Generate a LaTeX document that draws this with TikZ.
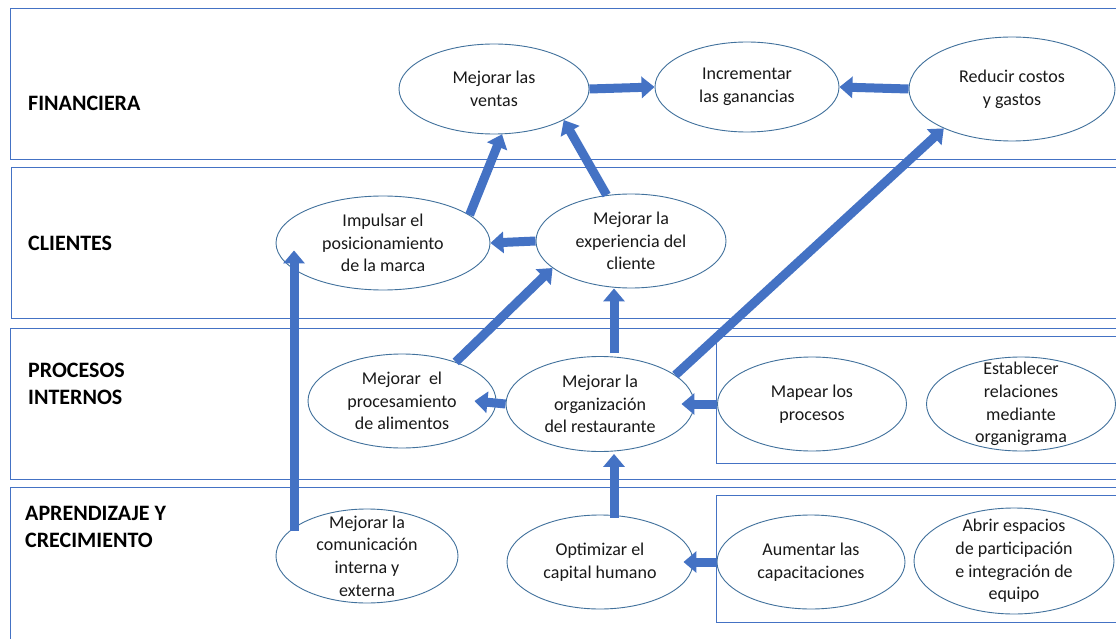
\documentclass[tikz,border=0pt]{standalone}
\usepackage{fontspec}
\setmainfont{Carlito}
\usetikzlibrary{shapes.geometric,arrows.meta,calc}
\definecolor{bandline}{HTML}{4472C4}
\definecolor{ovalline}{HTML}{41719C}
\definecolor{arrowblue}{HTML}{4472C4}

% oval objective: #1 name, #2 position, #3 width, #4 height, #5 text
\newcommand\goalnode[5]{%
  \node[goal,minimum width=#3pt,minimum height=#4pt] (#1) at (#2) {};
  \node[goaltext] (#1-t) at (#1.center) {#5};
}

\begin{document}
\begin{tikzpicture}[x=1pt,y=-1pt,
  band/.style={draw=bandline,line width=1pt},
  goal/.style={ellipse,draw=ovalline,line width=0.9pt,fill=white,inner sep=0pt},
  goaltext/.style={inner sep=0pt,align=center,text=black!90,font=\fontsize{18}{22.6}\selectfont},
  persp/.style={anchor=west,inner sep=0pt,align=left,font=\fontsize{22}{27}\selectfont\bfseries},
  flow/.style={draw=arrowblue,line width=9pt,-{Triangle[width=21pt,length=13pt]}},
]
\useasboundingbox (0,0) rectangle (1116,639);
\clip (0,0) rectangle (1116,639);
\fill[white] (0,0) rectangle (1116,639);

% perspective bands
\draw[band] (10,9) rectangle (1140,160);
\draw[band] (11,168) rectangle (1140,318);
\draw[band] (10,328) rectangle (1140,479);
\draw[band] (10,487) rectangle (1140,670);
% grouping frames on the right
\draw[band] (716,336) rectangle (1140,463);
\draw[band] (716,495) rectangle (1140,622);

% perspective titles
\node[persp] (lfin) at (28,103) {FINANCIERA};
\node[persp] (lcli) at (28,243) {CLIENTES};
\node[persp] (lpro) at (28,384) {PROCESOS\\INTERNOS};
\node[persp] (lapr) at (25,527) {APRENDIZAJE Y\\CRECIMIENTO};

% objectives
\goalnode{ventas}{494,89}{190}{90}{Mejorar las\\ventas}
\goalnode{ganancias}{747,87}{184}{90}{Incrementar\\las ganancias}
\goalnode{reducir}{1012,89}{206}{104}{Reducir costos\\y gastos}

\goalnode{impulsar}{383,243}{214}{94}{Impulsar el\\posicionamiento\\de la marca}
\goalnode{exper}{631,241}{190}{94}{Mejorar la\\experiencia del\\cliente}

\goalnode{proc}{402,401}{188}{94}{Mejorar\ \ el\\procesamiento\\de alimentos}
\goalnode{org}{600,404}{188}{95}{Mejorar la\\organización\\del restaurante}
\goalnode{mapear}{812,404}{189}{94}{Mapear los\\procesos}
\goalnode{establ}{1021,404}{189}{94}{Establecer\\relaciones\\mediante\\organigrama}

\goalnode{comun}{367,556}{182}{94}{Mejorar la\\comunicación\\interna y\\externa}
\goalnode{capital}{600,562}{186}{94}{Optimizar el\\capital humano}
\goalnode{aumentar}{811,562}{188}{94}{Aumentar las\\capacitaciones}
\goalnode{abrir}{1014,561}{200}{106}{Abrir espacios\\de participación\\e integración de\\equipo}

% cause-effect links
\draw[flow] (ventas.east) -- (ganancias.west);
\draw[flow] (reducir.west) -- (ganancias.east);
\draw[flow] (impulsar.18) -- (ventas.-80);
\draw[flow] (exper.118) -- (ventas.-24);
\draw[flow] (exper.west) -- (impulsar.east);
\draw[flow] (org.21) -- (reducir.-150);
\draw[flow] (proc.36) -- (exper.-161);
\draw[flow] ($(org.north)+(14,-3)$) -- ($(exper.south)+(-17,0)$);
\draw[flow] (org.west) -- ($(proc.east)+(-22,0)$);
\draw[flow] (mapear.west) -- ($(org.east)+(-13,0)$);
\draw[flow] ($(capital.north)+(14,3)$) -- ($(org.south)+(14,2)$);
\draw[flow] ($(comun.north)+(-73,22)$) -- ($(impulsar.south)+(-89,-40)$);
\draw[flow] (aumentar.west) -- ($(capital.east)+(-10,0)$);
\end{tikzpicture}
\end{document}
